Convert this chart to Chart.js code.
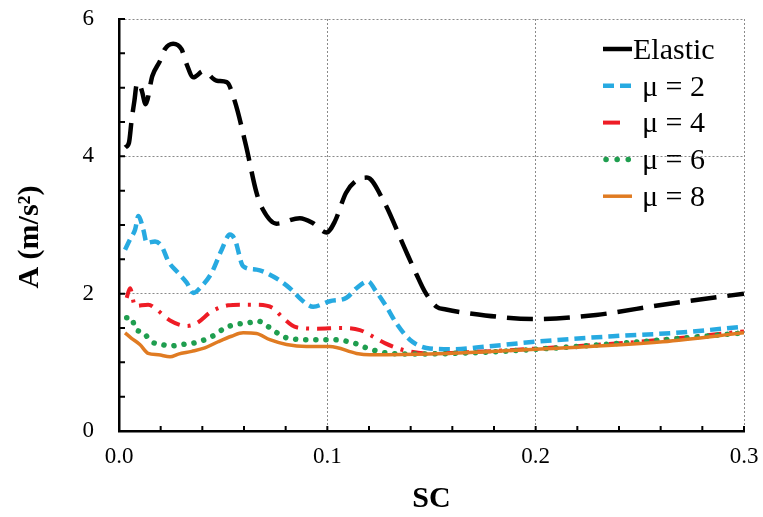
<!DOCTYPE html>
<html>
<head>
<meta charset="utf-8">
<script src="https://cdn.jsdelivr.net/npm/chart.js@4.4.1/dist/chart.umd.min.js"></script>
<style>
  html, body { margin: 0; padding: 0; background: #fff; }
  canvas { display: block; }
</style>
</head>
<body>
<canvas id="sc-chart" width="763" height="517"></canvas>
<script>
// values
const elasticSC = [0.003, 0.0048, 0.0061, 0.0074, 0.0085, 0.0096, 0.011, 0.0128, 0.016, 0.0197, 0.022, 0.026, 0.030, 0.0325, 0.0357, 0.0405, 0.047, 0.0517, 0.0556, 0.061, 0.066, 0.069, 0.0756, 0.0868, 0.093, 0.0996, 0.1036, 0.109, 0.1146, 0.119, 0.127, 0.137, 0.1428, 0.1468, 0.1524, 0.157, 0.1667, 0.2, 0.229, 0.261, 0.3];
const elasticA = [4.13, 4.2, 4.54, 4.81, 5.05, 5.07, 4.95, 4.76, 5.17, 5.39, 5.56, 5.64, 5.56, 5.34, 5.15, 5.24, 5.1, 5.08, 4.8, 4.15, 3.47, 3.23, 3.02, 3.1, 3.03, 2.89, 3.05, 3.47, 3.66, 3.69, 3.35, 2.67, 2.28, 2.03, 1.81, 1.77, 1.72, 1.63, 1.69, 1.84, 2.0];

const mu2SC = [0.0029, 0.0053, 0.0077, 0.0093, 0.0117, 0.0133, 0.0173, 0.0205, 0.0237, 0.0285, 0.0325, 0.0357, 0.0397, 0.0444, 0.0493, 0.0532, 0.0556, 0.0596, 0.066, 0.074, 0.082, 0.0884, 0.0932, 0.1012, 0.1092, 0.114, 0.1196, 0.1228, 0.1284, 0.1331, 0.1396, 0.1476, 0.1604, 0.1764, 0.2, 0.237, 0.2675, 0.3];
const mu2A = [2.64, 2.79, 2.93, 3.13, 2.93, 2.74, 2.76, 2.69, 2.47, 2.30, 2.16, 2.01, 2.11, 2.30, 2.64, 2.86, 2.79, 2.40, 2.35, 2.25, 2.08, 1.89, 1.81, 1.89, 1.94, 2.08, 2.18, 2.06, 1.81, 1.57, 1.33, 1.21, 1.19, 1.23, 1.30, 1.38, 1.43, 1.52];

const mu4SC = [0.0037, 0.0053, 0.0077, 0.014, 0.018, 0.0245, 0.0325, 0.0373, 0.0444, 0.0524, 0.058, 0.066, 0.074, 0.078, 0.0852, 0.0948, 0.107, 0.1156, 0.1204, 0.1276, 0.1364, 0.1476, 0.17, 0.2, 0.25, 0.3];
const mu4A = [1.94, 2.08, 1.82, 1.84, 1.77, 1.61, 1.53, 1.57, 1.74, 1.83, 1.84, 1.84, 1.79, 1.67, 1.51, 1.49, 1.50, 1.47, 1.40, 1.28, 1.18, 1.13, 1.15, 1.20, 1.30, 1.45];

const mu6SC = [0.0037, 0.006, 0.0077, 0.0117, 0.0157, 0.0205, 0.0253, 0.03, 0.0357, 0.0412, 0.046, 0.0508, 0.0556, 0.0612, 0.0668, 0.0716, 0.0764, 0.0812, 0.0916, 0.1028, 0.114, 0.1188, 0.1244, 0.13, 0.14, 0.17, 0.2, 0.25, 0.3];
const mu6A = [1.65, 1.65, 1.50, 1.43, 1.30, 1.26, 1.24, 1.26, 1.28, 1.33, 1.40, 1.50, 1.55, 1.57, 1.60, 1.52, 1.42, 1.35, 1.33, 1.33, 1.27, 1.21, 1.16, 1.13, 1.12, 1.14, 1.19, 1.30, 1.43];

const mu8SC = [0.0029, 0.006, 0.01, 0.014, 0.0189, 0.0245, 0.0285, 0.0349, 0.0412, 0.0476, 0.054, 0.0596, 0.066, 0.0724, 0.0804, 0.09, 0.1012, 0.114, 0.1204, 0.149, 0.2, 0.261, 0.3];
const mu8A = [1.43, 1.35, 1.26, 1.13, 1.11, 1.08, 1.12, 1.16, 1.21, 1.30, 1.38, 1.43, 1.42, 1.33, 1.26, 1.23, 1.23, 1.13, 1.11, 1.12, 1.19, 1.30, 1.43];

const seriesLabels = ["Elastic", "μ = 2", "μ = 4", "μ = 6", "μ = 8"];
const xTicks = [0, 0.1, 0.2, 0.3];
const yTicks = [0, 2, 4, 6];
const yTitle = "A (m/s²)";

const SERIF = '"Liberation Serif", "Times New Roman", serif';
const toPoints = (xs, ys) => xs.map((x, i) => ({ x, y: ys[i] }));

const styles = [
  { color: "#000000", width: 4.5, dash: [26, 11], cap: "butt" },
  { color: "#27aae1", width: 4.5, dash: [11, 6], cap: "butt" },
  { color: "#ee1c25", width: 4, dash: [14, 8, 3, 8], cap: "butt" },
  { color: "#1f9e4f", width: 5.5, dash: [0.1, 10], cap: "round" },
  { color: "#e07b22", width: 3.5, dash: [], cap: "butt" }
];

const allData = [
  toPoints(elasticSC, elasticA),
  toPoints(mu2SC, mu2A),
  toPoints(mu4SC, mu4A),
  toPoints(mu6SC, mu6A),
  toPoints(mu8SC, mu8A)
];

// inward minor tick marks like the excel axes
const minorTicks = {
  id: "minorTicks",
  afterDraw(chart) {
    const { ctx, chartArea, scales } = chart;
    ctx.save();
    ctx.strokeStyle = "#000";
    ctx.lineWidth = 2;
    ctx.beginPath();
    for (let i = 1; i <= 15; i++) {
      const px = scales.x.getPixelForValue(i * 0.02);
      ctx.moveTo(px, chartArea.bottom);
      ctx.lineTo(px, chartArea.bottom - 5);
    }
    for (let i = 1; i <= 12; i++) {
      const py = scales.y.getPixelForValue(i * 0.5);
      ctx.moveTo(chartArea.left, py);
      ctx.lineTo(chartArea.left + 6, py);
    }
    ctx.stroke();
    ctx.restore();
  }
};

// y title sits a bit below the plot middle in the original
const sideTitle = {
  id: "sideTitle",
  afterDraw(chart) {
    const { ctx, chartArea } = chart;
    ctx.save();
    ctx.translate(30, (chartArea.top + chartArea.bottom) / 2 + 12);
    ctx.rotate(-Math.PI / 2);
    ctx.font = "bold 30px " + SERIF;
    ctx.fillStyle = "#000";
    ctx.textAlign = "center";
    ctx.textBaseline = "middle";
    ctx.fillText(yTitle, 0, 0);
    ctx.restore();
  }
};

// legend drawn inside the plot, top right
const insideLegend = {
  id: "insideLegend",
  afterDraw(chart) {
    const { ctx, chartArea } = chart;
    const x0 = chartArea.right - 141;
    const rowH = 36.8;
    const top = chartArea.top + 30;
    ctx.save();
    ctx.font = "30px " + SERIF;
    ctx.textBaseline = "middle";
    ctx.fillStyle = "#000";
    seriesLabels.forEach((label, i) => {
      const s = styles[i];
      const y = top + i * rowH;
      ctx.strokeStyle = s.color;
      ctx.lineWidth = s.width;
      ctx.lineCap = s.cap;
      ctx.beginPath();
      if (i === 0 || i === 4) {
        ctx.setLineDash([]);
        ctx.moveTo(x0, y); ctx.lineTo(x0 + 29, y);
      } else if (i === 1) {
        ctx.setLineDash([11, 6]);
        ctx.moveTo(x0, y); ctx.lineTo(x0 + 29, y);
      } else if (i === 2) {
        ctx.setLineDash([]);
        ctx.moveTo(x0, y); ctx.lineTo(x0 + 17, y);
      } else {
        ctx.setLineDash([0.1, 11]);
        ctx.moveTo(x0 + 3, y); ctx.lineTo(x0 + 29, y);
      }
      ctx.stroke();
      ctx.fillText(label, i === 0 ? x0 + 30 : x0 + 39, y + 2);
    });
    ctx.restore();
  }
};

new Chart(document.getElementById("sc-chart"), {
  type: "line",
  data: {
    datasets: allData.map((pts, i) => ({
      label: seriesLabels[i],
      data: pts,
      borderColor: styles[i].color,
      borderWidth: styles[i].width,
      borderDash: styles[i].dash,
      borderCapStyle: styles[i].cap,
      pointRadius: 0,
      fill: false,
      cubicInterpolationMode: "monotone",
      order: [5, 4, 3, 2, 1][i]
    }))
  },
  options: {
    responsive: false,
    animation: false,
    layout: { padding: { top: 19, right: 19, left: 0, bottom: 0 } },
    plugins: {
      legend: { display: false },
      tooltip: { enabled: false }
    },
    scales: {
      x: {
        type: "linear",
        min: 0,
        max: 0.3,
        afterFit: s => { s.height = 86; },
        afterBuildTicks: s => { s.ticks = xTicks.map(v => ({ value: v })); },
        ticks: {
          padding: 0,
          color: "#000",
          font: { family: SERIF, size: 23 },
          callback: v => Number(v).toFixed(1),
          maxRotation: 0
        },
        grid: {
          drawTicks: true,
          tickLength: 12,
          tickColor: "rgba(0,0,0,0)",
          color: ctx => ctx.tick && ctx.tick.value === 0 ? "rgba(0,0,0,0)" : "#8a8a8a",
          lineWidth: 1
        },
        border: { display: true, color: "#000", width: 2.5, dash: [2, 2] },
        title: {
          display: true,
          text: "SC",
          color: "#000",
          font: { family: SERIF, size: 30, weight: "bold" },
          padding: { top: 0, bottom: 0 }
        }
      },
      y: {
        min: 0,
        max: 6,
        afterFit: s => { s.width = 119; },
        afterBuildTicks: s => { s.ticks = yTicks.map(v => ({ value: v })); },
        ticks: {
          padding: 0,
          color: "#000",
          font: { family: SERIF, size: 23 }
        },
        grid: {
          drawTicks: true,
          tickLength: 25,
          tickColor: "rgba(0,0,0,0)",
          color: ctx => ctx.tick && ctx.tick.value === 0 ? "rgba(0,0,0,0)" : "#8a8a8a",
          lineWidth: 1
        },
        border: { display: true, color: "#000", width: 2.5, dash: [2, 2] },
        title: { display: false }
      }
    }
  },
  plugins: [minorTicks, insideLegend, sideTitle]
});
</script>
</body>
</html>
